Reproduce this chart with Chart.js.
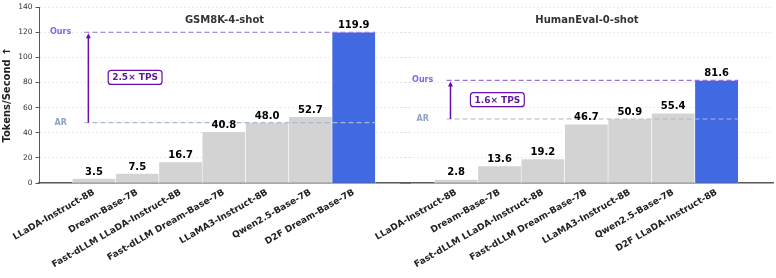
<!DOCTYPE html>
<html>
<head>
<meta charset="utf-8">
<script src="https://cdn.jsdelivr.net/npm/chart.js@4.4.1/dist/chart.umd.min.js"></script>
<style>
  html, body { margin: 0; padding: 0; background: #fff; }
  #wrap { position: relative; width: 776px; height: 278px; }
  #wrap canvas { position: absolute; left: 0; top: 0; }
</style>
</head>
<body>
<div id="wrap">
  <canvas id="chart-gsm" width="776" height="278"></canvas>
  <canvas id="chart-he" width="776" height="278"></canvas>
</div>
<script>
// ── Data ────────────────────────────────────────────────
const gsmCategories = ['LLaDA-Instruct-8B', 'Dream-Base-7B', 'Fast-dLLM LLaDA-Instruct-8B', 'Fast-dLLM Dream-Base-7B', 'LLaMA3-Instruct-8B', 'Qwen2.5-Base-7B', 'D2F Dream-Base-7B'];
const gsmValues = [3.5, 7.5, 16.7, 40.8, 48.0, 52.7, 119.9];

const heCategories = ['LLaDA-Instruct-8B', 'Dream-Base-7B', 'Fast-dLLM LLaDA-Instruct-8B', 'Fast-dLLM Dream-Base-7B', 'LLaMA3-Instruct-8B', 'Qwen2.5-Base-7B', 'D2F LLaDA-Instruct-8B'];
const heValues = [2.8, 13.6, 19.2, 46.7, 50.9, 55.4, 81.6];

const yTickValues = [0, 20, 40, 60, 80, 100, 120, 140];

// AR baseline (LLaMA3) vs ours, per benchmark
const gsmRef = { ar: 48.0, ours: 119.9, speedup: '2.5× TPS' };
const heRef = { ar: 50.9, ours: 81.6, speedup: '1.6× TPS' };

// ── Styling ─────────────────────────────────────────────
const GRAY = '#D3D3D3';
const BLUE = '#4169E1';
const X_MIN = -1.27, X_MAX = 7.3;

Chart.defaults.font.family = "'DejaVu Sans', sans-serif";

const SpeedChart = {
    init() {
        this.makePanel('chart-gsm', {
            title: 'GSM8K-4-shot', categories: gsmCategories, values: gsmValues, ref: gsmRef,
            padding: { left: 0, top: 7, right: 366, bottom: 0 }, showY: true
        });
        this.makePanel('chart-he', {
            title: 'HumanEval-0-shot', categories: heCategories, values: heValues, ref: heRef,
            padding: { left: 401, top: 7, right: 3, bottom: 0 }, showY: false
        });
    },

    // annotations: title, AR / Ours lines, arrow, speedup box, value labels
    decorPlugin(cfg) {
        return {
            id: 'decor',
            afterDatasetsDraw(chart) {
                const { ctx, chartArea, scales: { x, y } } = chart;
                const yOurs = y.getPixelForValue(cfg.ref.ours);
                const yAr = y.getPixelForValue(cfg.ref.ar);
                const xStart = x.getPixelForValue(-0.22);
                const xEnd = x.getPixelForValue(cfg.values.length - 0.5);
                ctx.save();

                ctx.font = 'bold 10px "DejaVu Sans"';
                ctx.fillStyle = '#333';
                ctx.textAlign = 'center';
                ctx.textBaseline = 'alphabetic';
                ctx.fillText(cfg.title, (chartArea.left + chartArea.right) / 2, chartArea.top + 16);

                ctx.lineWidth = 1.2;
                ctx.setLineDash([5, 3]);
                ctx.strokeStyle = '#9370DB';
                ctx.beginPath(); ctx.moveTo(xStart, yOurs); ctx.lineTo(xEnd, yOurs); ctx.stroke();
                ctx.strokeStyle = '#AAB8D4';
                ctx.beginPath(); ctx.moveTo(xStart, yAr); ctx.lineTo(xEnd, yAr); ctx.stroke();
                ctx.setLineDash([]);

                ctx.font = 'bold 8px "DejaVu Sans"';
                ctx.textBaseline = 'middle';
                const xLab = x.getPixelForValue(-0.77);
                ctx.fillStyle = '#7B68EE';
                ctx.fillText('Ours', xLab, yOurs);
                ctx.fillStyle = '#8FA3C8';
                ctx.fillText('AR', xLab, yAr);

                // arrow
                const xArrow = x.getPixelForValue(-0.13);
                ctx.strokeStyle = '#6A0DAD';
                ctx.fillStyle = '#6A0DAD';
                ctx.lineWidth = 1.5;
                ctx.beginPath(); ctx.moveTo(xArrow, yAr); ctx.lineTo(xArrow, yOurs + 4); ctx.stroke();
                ctx.beginPath();
                ctx.moveTo(xArrow, yOurs + 1);
                ctx.lineTo(xArrow - 2.5, yOurs + 6);
                ctx.lineTo(xArrow + 2.5, yOurs + 6);
                ctx.closePath(); ctx.fill();

                // speedup box
                const xBox = x.getPixelForValue(0.95);
                const yBox = y.getPixelForValue((cfg.ref.ar + cfg.ref.ours) / 2);
                ctx.font = 'bold 9px "DejaVu Sans"';
                const w = ctx.measureText(cfg.ref.speedup).width + 8;
                const h = 14;
                ctx.fillStyle = '#fff';
                ctx.lineWidth = 1.2;
                ctx.beginPath();
                ctx.roundRect(xBox - w / 2, yBox - h / 2, w, h, 3);
                ctx.fill(); ctx.stroke();
                ctx.fillStyle = '#5B1A9A';
                ctx.fillText(cfg.ref.speedup, xBox, yBox + 0.5);

                // value labels
                ctx.font = 'bold 10px "DejaVu Sans"';
                ctx.fillStyle = '#000';
                ctx.textBaseline = 'alphabetic';
                chart.getDatasetMeta(0).data.forEach((bar, i) => {
                    ctx.fillText(cfg.values[i].toFixed(1), bar.x, bar.y - 4);
                });
                ctx.restore();
            }
        };
    },

    makePanel(id, cfg) {
        const last = cfg.values.length - 1;
        return new Chart(document.getElementById(id), {
            type: 'bar',
            data: {
                datasets: [{
                    data: cfg.values.map((v, i) => ({ x: i, y: v })),
                    backgroundColor: cfg.values.map((v, i) => i === last ? BLUE : GRAY),
                    borderColor: '#fff',
                    borderWidth: 0.6,
                    barPercentage: 1,
                    categoryPercentage: 1
                }]
            },
            options: {
                responsive: false,
                animation: false,
                devicePixelRatio: 1,
                layout: { padding: cfg.padding },
                plugins: { legend: { display: false }, tooltip: { enabled: false } },
                scales: {
                    x: {
                        type: 'linear', min: X_MIN, max: X_MAX, offset: false,
                        afterBuildTicks: axis => { axis.ticks = cfg.categories.map((c, i) => ({ value: i })); },
                        afterFit: axis => { axis.height = 95; axis.paddingLeft = 0; axis.paddingRight = 0; },
                        grid: { display: false, drawTicks: false, offset: false },
                        border: { display: true, color: '#5a5a5a', width: 1.5 },
                        ticks: {
                            autoSkip: false, minRotation: 30, maxRotation: 30, padding: 4,
                            color: '#222', font: { size: 9, weight: 'bold' },
                            callback: v => cfg.categories[v]
                        }
                    },
                    y: {
                        min: 0, max: 140,
                        afterBuildTicks: axis => { axis.ticks = yTickValues.map(v => ({ value: v })); },
                        afterFit: axis => {
                            axis.width = cfg.showY ? 39 : 0;
                            axis.paddingTop = 0; axis.paddingBottom = 0;
                        },
                        grid: {
                            color: 'rgba(0,0,0,0.13)', lineWidth: 0.6,
                            drawTicks: cfg.showY, tickLength: 3.5,
                            tickColor: '#555', tickWidth: 1, tickBorderDash: []
                        },
                        border: { display: cfg.showY, color: '#5a5a5a', width: 1, dash: [2, 2] },
                        ticks: { display: cfg.showY, color: '#333', font: { size: 7.5 }, padding: 3 },
                        title: {
                            display: cfg.showY, text: 'Tokens/Second ↑', color: '#222',
                            font: { size: 10, weight: 'bold' }, padding: { top: 1, bottom: 0 }
                        }
                    }
                }
            },
            plugins: [this.decorPlugin(cfg)]
        });
    }
};

SpeedChart.init();
</script>
</body>
</html>
